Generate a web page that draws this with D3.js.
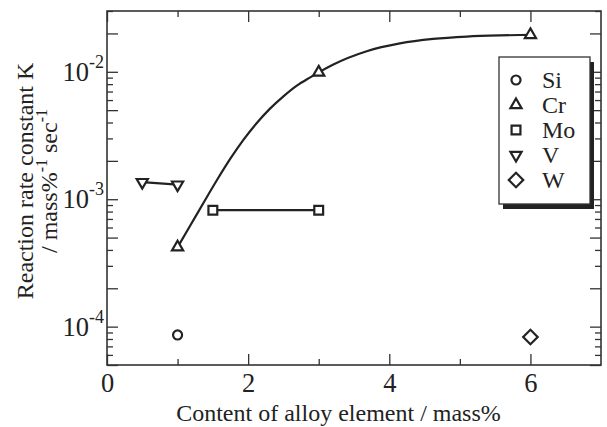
<!DOCTYPE html>
<html>
<head>
<meta charset="utf-8">
<script src="https://cdn.jsdelivr.net/npm/d3@7"></script>
<style>
  body { margin: 0; background: #fff; }
  text { font-family: "Liberation Serif", "DejaVu Serif", serif; fill: #222; }
</style>
</head>
<body>
<div id="chart"></div>
<script>
// data
var siX = [1], siY = [8.6e-5];
var crX = [1, 3, 6], crY = [4.2e-4, 9.9e-3, 1.95e-2];
var moX = [1.5, 3], moY = [8.2e-4, 8.2e-4];
var vX = [0.5, 1], vY = [1.36e-3, 1.3e-3];
var wX = [6], wY = [8.3e-5];

// fitted curve through Cr
var fitX = [1.0, 1.18, 1.37, 1.55, 1.75, 1.93, 2.12, 2.31, 2.5, 2.69, 2.88, 3.0, 3.2, 3.68, 4.15, 4.62, 5.1, 5.57, 6.0];
var fitY = [4.2e-4, 6.22e-4, 9.43e-4, 1.39e-3, 2.09e-3, 2.91e-3, 3.95e-3, 5.14e-3, 6.42e-3, 7.79e-3, 9.05e-3, 9.9e-3, 1.136e-2, 1.45e-2, 1.67e-2, 1.81e-2, 1.89e-2, 1.93e-2, 1.95e-2];

var xTicks = [0, 2, 4, 6];
var xMinorTicks = [1, 3, 5];
var yTicks = [1e-4, 1e-3, 1e-2];
var yExp = ["-4", "-3", "-2"];
var legendNames = ["Si", "Cr", "Mo", "V", "W"];

var svgWidth = 607;
var svgHeight = 427;
var margin = { top: 11, right: 6, bottom: 62, left: 107 };
var width = svgWidth - margin.left - margin.right;
var height = svgHeight - margin.top - margin.bottom;

var svg = d3.select("#chart")
    .append("svg")
    .attr("width", svgWidth)
    .attr("height", svgHeight);

var chartGroup = svg.append("g")
    .attr("transform", `translate(${margin.left}, ${margin.top})`);

var xScale = d3.scaleLinear().domain([0, 7]).range([0, width]);
var yScale = d3.scaleLog().domain([5e-5, 3e-2]).range([height, 0]);

// minor ticks on log axis: 2..9 of each decade
var yMinor = [];
[1e-5, 1e-4, 1e-3, 1e-2].forEach(function(d) {
    for (var k = 2; k <= 9; k++) {
        var v = d * k;
        if (v >= 5e-5 && v <= 3e-2) yMinor.push(v);
    }
});
var yMid = yMinor.filter(v => { var m = Math.round(v / Math.pow(10, Math.floor(Math.log10(v) + 1e-9))); return m === 2 || m === 5; });
var ySmall = yMinor.filter(v => yMid.indexOf(v) < 0);

var axisColor = "#333";

function styleAxis(g) {
    g.selectAll("path").remove();
    g.selectAll("line").attr("stroke", axisColor).attr("stroke-width", 1.3);
}

// bottom
chartGroup.append("g")
    .attr("transform", `translate(0, ${height})`)
    .call(d3.axisBottom(xScale).tickValues(xTicks).tickSizeInner(-11).tickSizeOuter(0).tickPadding(8).tickFormat(d3.format("d")))
    .call(styleAxis)
    .selectAll("text")
    .attr("font-size", 26.5)
    .attr("font-family", "Liberation Serif")
    .attr("fill", "#222");
chartGroup.append("g")
    .attr("transform", `translate(0, ${height})`)
    .call(d3.axisBottom(xScale).tickValues(xMinorTicks).tickSizeInner(-6).tickSizeOuter(0).tickFormat(""))
    .call(styleAxis);
// top
chartGroup.append("g")
    .call(d3.axisTop(xScale).tickValues(xTicks).tickSizeInner(-11).tickSizeOuter(0).tickFormat(""))
    .call(styleAxis);
chartGroup.append("g")
    .call(d3.axisTop(xScale).tickValues(xMinorTicks).tickSizeInner(-6).tickSizeOuter(0).tickFormat(""))
    .call(styleAxis);

// left
var leftAxis = chartGroup.append("g")
    .call(d3.axisLeft(yScale).tickValues(yTicks).tickSizeInner(-11).tickSizeOuter(0).tickPadding(3).tickFormat(""))
    .call(styleAxis);
leftAxis.selectAll(".tick text")
    .attr("font-size", 26.5)
    .attr("font-family", "Liberation Serif")
    .attr("fill", "#222")
    .attr("dy", "0.32em")
    .each(function(d, i) {
        var t = d3.select(this);
        t.append("tspan").text("10");
        t.append("tspan").attr("font-size", 18).attr("dy", -13).text(yExp[i]);
    });
chartGroup.append("g")
    .call(d3.axisLeft(yScale).tickValues(yMid).tickSizeInner(-11).tickSizeOuter(0).tickFormat(""))
    .call(styleAxis);
chartGroup.append("g")
    .call(d3.axisLeft(yScale).tickValues(ySmall).tickSizeInner(-6).tickSizeOuter(0).tickFormat(""))
    .call(styleAxis);
// right
chartGroup.append("g")
    .attr("transform", `translate(${width}, 0)`)
    .call(d3.axisRight(yScale).tickValues(yTicks.concat(yMid)).tickSizeInner(-11).tickSizeOuter(0).tickFormat(""))
    .call(styleAxis);
chartGroup.append("g")
    .attr("transform", `translate(${width}, 0)`)
    .call(d3.axisRight(yScale).tickValues(ySmall).tickSizeInner(-6).tickSizeOuter(0).tickFormat(""))
    .call(styleAxis);

// frame
chartGroup.append("rect")
    .attr("width", width)
    .attr("height", height)
    .attr("fill", "none")
    .attr("stroke", axisColor)
    .attr("stroke-width", 1.6);

// lines
var line = d3.line().x(d => xScale(d[0])).y(d => yScale(d[1]));

chartGroup.append("path")
    .datum(d3.zip(fitX, fitY))
    .attr("d", line.curve(d3.curveMonotoneX))
    .attr("fill", "none")
    .attr("stroke", "#222")
    .attr("stroke-width", 2.2);

line.curve(d3.curveLinear);
chartGroup.append("path")
    .datum(d3.zip(moX, moY))
    .attr("d", line)
    .attr("fill", "none")
    .attr("stroke", "#222")
    .attr("stroke-width", 2.2);
chartGroup.append("path")
    .datum(d3.zip(vX, vY))
    .attr("d", line)
    .attr("fill", "none")
    .attr("stroke", "#222")
    .attr("stroke-width", 2.2);

// markers
var shapes = {
    Si: { sym: d3.symbolCircle, size: 64, rot: 0 },
    Cr: { sym: d3.symbolTriangle, size: 54, rot: 0 },
    Mo: { sym: d3.symbolSquare, size: 78, rot: 0 },
    V: { sym: d3.symbolTriangle, size: 54, rot: 180 },
    W: { sym: d3.symbolSquare, size: 105, rot: 45 }
};

function drawMarkers(name, xs, ys) {
    var s = shapes[name];
    chartGroup.append("g")
        .selectAll("path")
        .data(d3.zip(xs, ys))
        .enter().append("path")
        .attr("d", d3.symbol().type(s.sym).size(s.size))
        .attr("transform", d => `translate(${xScale(d[0])}, ${yScale(d[1])}) rotate(${s.rot})`)
        .attr("fill", "#fff")
        .attr("stroke", "#222")
        .attr("stroke-width", 2.2);
}
drawMarkers("Si", siX, siY);
drawMarkers("Cr", crX, crY);
drawMarkers("Mo", moX, moY);
drawMarkers("V", vX, vY);
drawMarkers("W", wX, wY);

// legend
var legend = svg.append("g").attr("transform", "translate(499, 57)");
legend.append("rect")
    .attr("x", 4).attr("y", 5)
    .attr("width", 91).attr("height", 147)
    .attr("fill", "#222");
legend.append("rect")
    .attr("width", 91).attr("height", 147)
    .attr("fill", "#fff")
    .attr("stroke", "#333")
    .attr("stroke-width", 1.3);
legendNames.forEach(function(name, i) {
    var s = shapes[name];
    var cy = 23 + i * 25;
    legend.append("path")
        .attr("d", d3.symbol().type(s.sym).size(s.size))
        .attr("transform", `translate(17, ${cy}) rotate(${s.rot})`)
        .attr("fill", "#fff")
        .attr("stroke", "#222")
        .attr("stroke-width", 2.2);
    legend.append("text")
        .attr("x", 43)
        .attr("y", cy + 8)
        .attr("font-size", 24)
        .text(name);
});

// axis titles
svg.append("text")
    .attr("x", 338.5)
    .attr("y", 421)
    .attr("text-anchor", "middle")
    .attr("font-size", 24)
    .text("Content of alloy element / mass%");

var yTitle = svg.append("g").attr("transform", "rotate(-90)");
yTitle.append("text")
    .attr("x", -181)
    .attr("y", 33)
    .attr("text-anchor", "middle")
    .attr("font-size", 24)
    .text("Reaction rate constant K");
var t2 = yTitle.append("text")
    .attr("x", -253)
    .attr("y", 57)
    .attr("font-size", 24);
t2.append("tspan").text("/ mass%");
t2.append("tspan").attr("font-size", 16).attr("dy", -10).text("-1");
t2.append("tspan").attr("dy", 10).text(" sec");
t2.append("tspan").attr("font-size", 16).attr("dy", -10).text("-1");
</script>
</body>
</html>
